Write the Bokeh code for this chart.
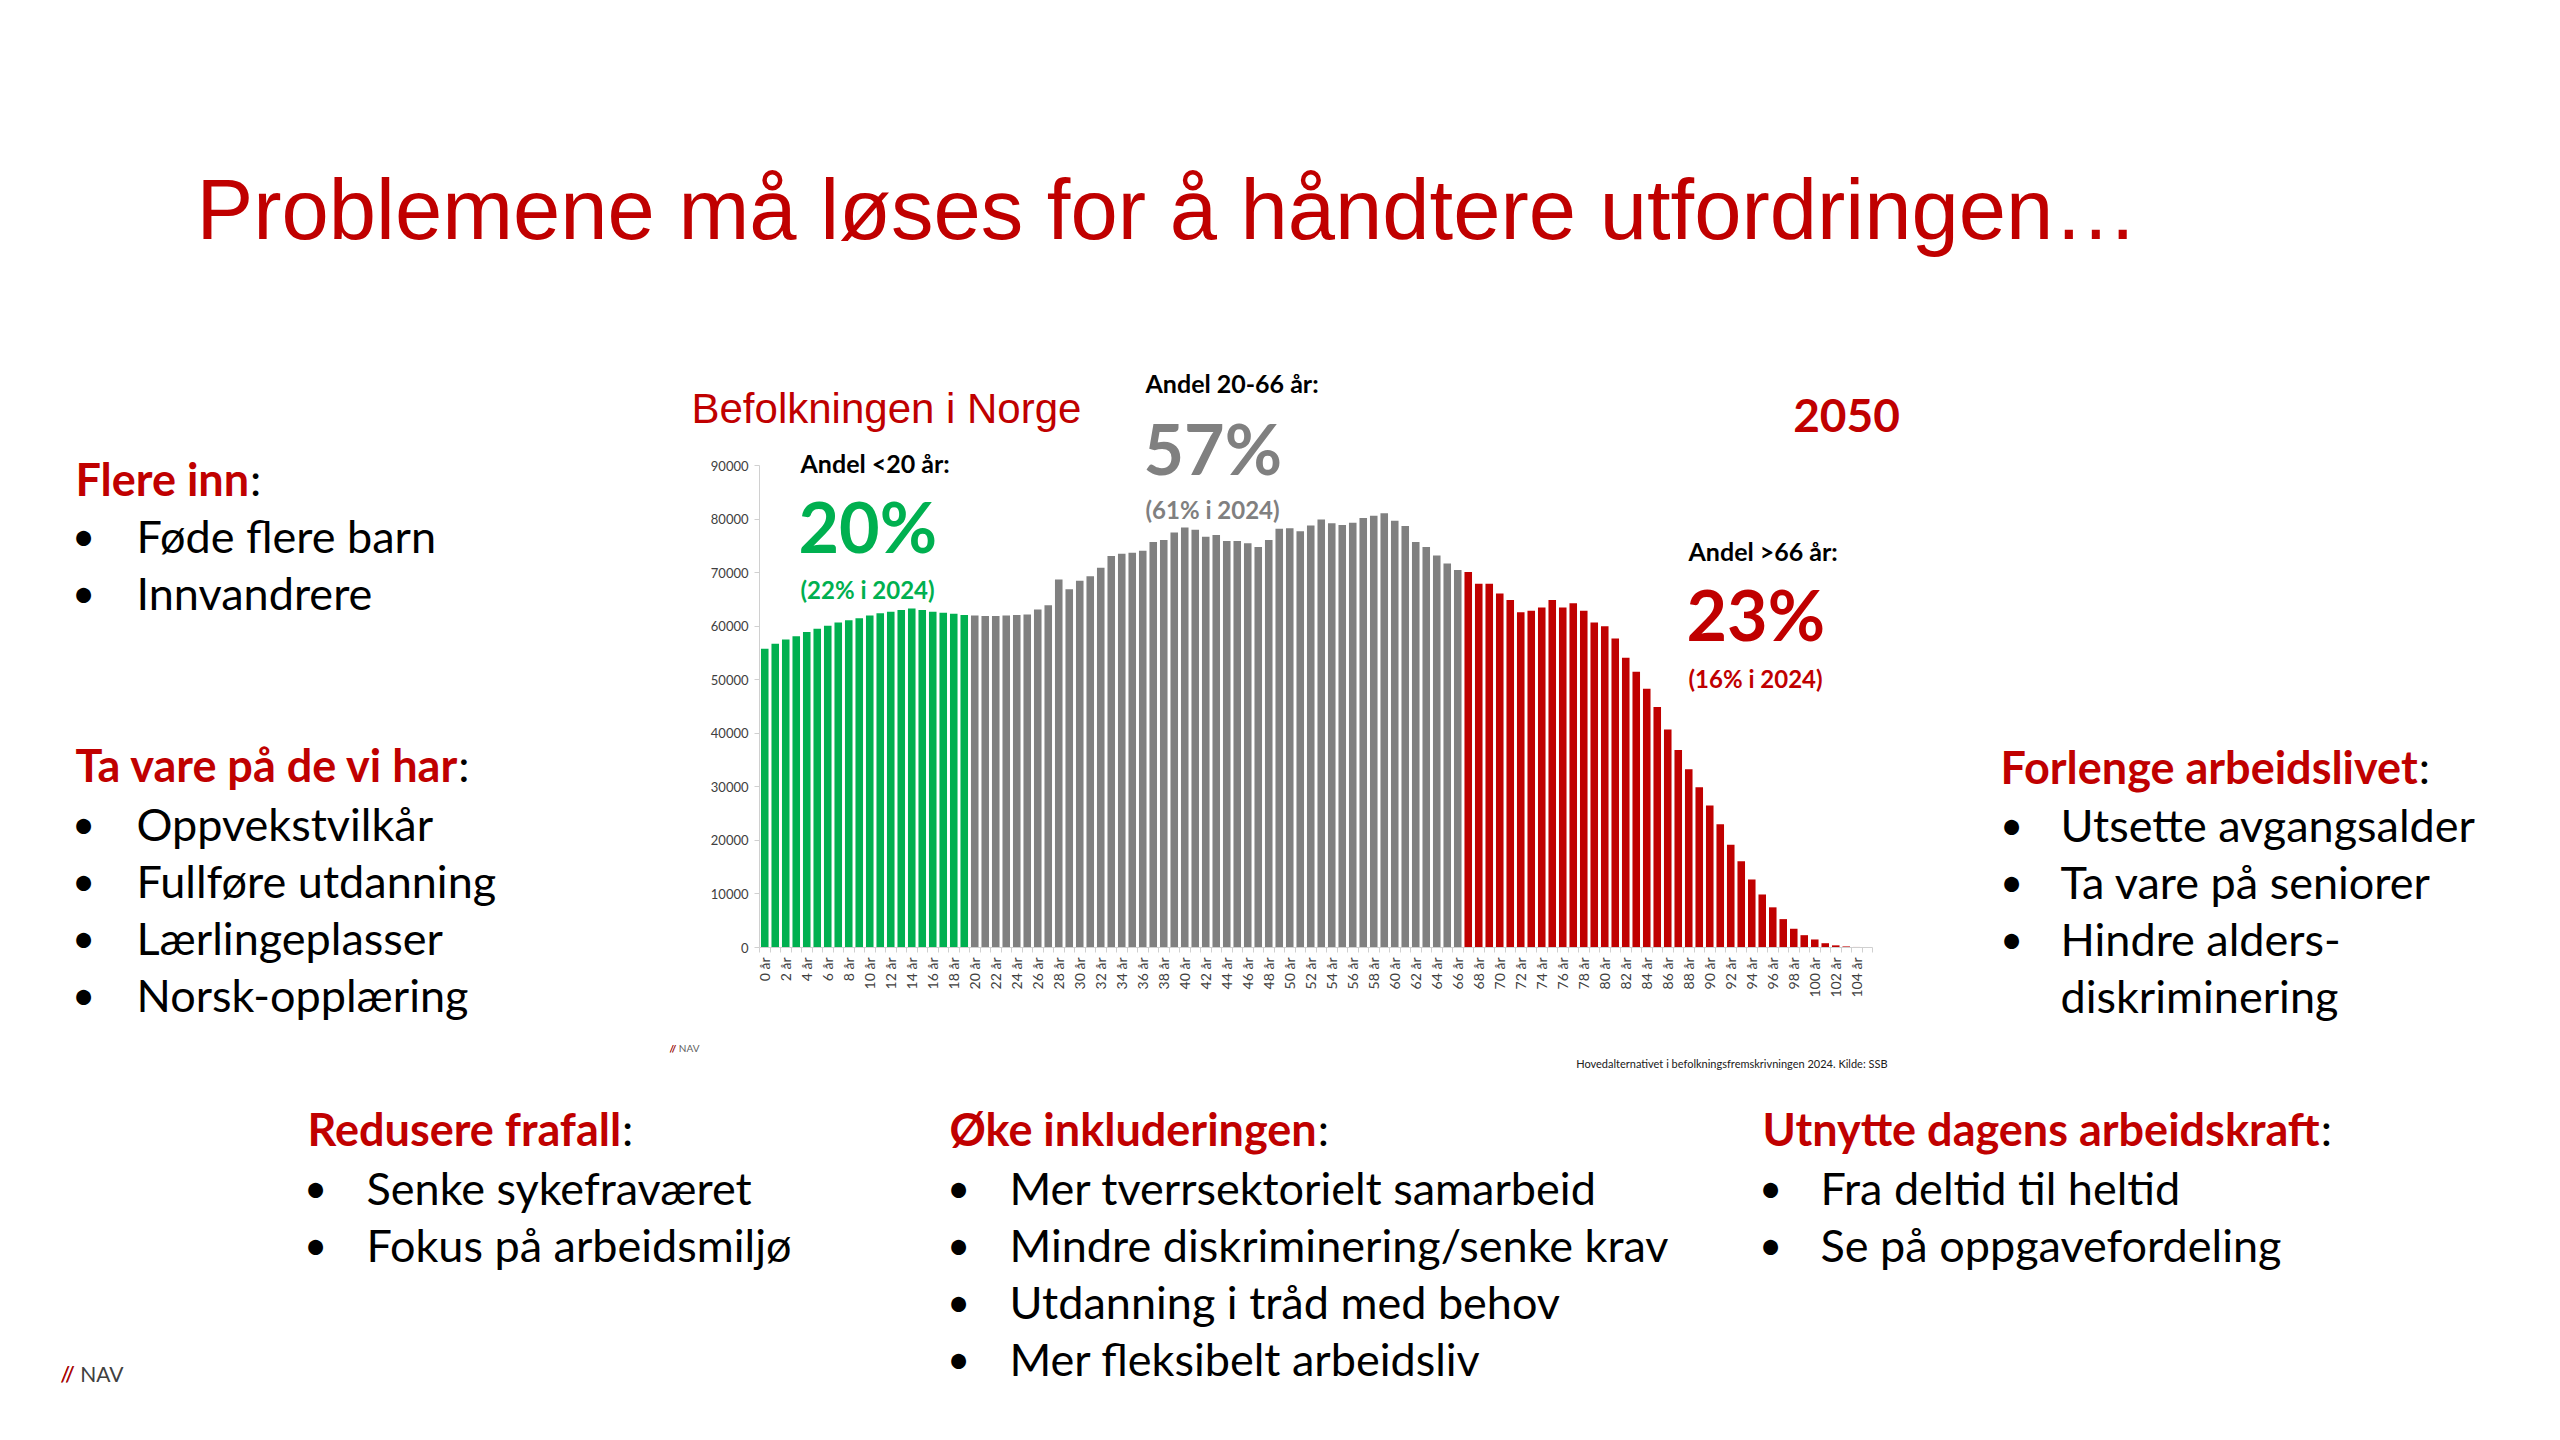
import math
import subprocess
from bokeh.plotting import figure
from bokeh.models import Range1d, FixedTicker, Label, NumeralTickFormatter, ColumnDataSource
from bokeh.embed import file_html
from bokeh.resources import INLINE

# ---------------- data ----------------
ages = list(range(106))
age_labels = {a: f"{a} år" for a in range(0, 106, 2)}
population = [
    55800, 56700, 57500, 58100, 58900, 59500, 60100, 60700, 61100, 61500,
    62000, 62400, 62700, 63000, 63300, 63000, 62700, 62500, 62300, 62100,
    62000, 61900, 61900, 62000, 62100, 62200, 63100, 63900, 68700, 66900,
    68500, 69300, 70900, 73100, 73500, 73700, 74100, 75700, 76100, 77500,
    78400, 78000, 76700, 77000, 75900, 75900, 75500, 74800, 76100, 78200,
    78300, 77700, 78800, 79900, 79200, 78900, 79300, 80200, 80600, 81100,
    79700, 78700, 75700, 74800, 73200, 71700, 70500, 70100, 67900, 67900,
    66100, 64900, 62600, 62900, 63500, 64900, 63500, 64300, 62900, 60700,
    60000, 57700, 54100, 51500, 48300, 44900, 40700, 36900, 33300, 29900,
    26500, 23000, 19200, 16100, 12700, 9900, 7500, 5300, 3500, 2300,
    1500, 800, 400, 200, 100, 50,
]
young_max_age = 19
working_max_age = 66
y_ticks = [0, 10000, 20000, 30000, 40000, 50000, 60000, 70000, 80000, 90000]

title_text = "Problemene må løses for å håndtere utfordringen…"
chart_title = "Befolkningen i Norge"
year_text = "2050"
share_young = ("Andel <20 år:", "20%", "(22% i 2024)")
share_work = ("Andel 20-66 år:", "57%", "(61% i 2024)")
share_old = ("Andel >66 år:", "23%", "(16% i 2024)")
source_text = "Hovedalternativet i befolkningsfremskrivningen 2024. Kilde: SSB"

blocks = [
    ("Flere inn", ["Føde flere barn", "Innvandrere"]),
    ("Ta vare på de vi har", ["Oppvekstvilkår", "Fullføre utdanning", "Lærlingeplasser", "Norsk-opplæring"]),
    ("Forlenge arbeidslivet", ["Utsette avgangsalder", "Ta vare på seniorer", "Hindre alders-", "\tdiskriminering"]),
    ("Redusere frafall", ["Senke sykefraværet", "Fokus på arbeidsmiljø"]),
    ("Øke inkluderingen", ["Mer tverrsektorielt samarbeid", "Mindre diskriminering/senke krav",
                           "Utdanning i tråd med behov", "Mer fleksibelt arbeidsliv"]),
    ("Utnytte dagens arbeidskraft", ["Fra deltid til heltid", "Se på oppgavefordeling"]),
]

# ---------------- style / layout ----------------
GREEN = "#00B050"
GREY = "#808080"
RED = "#C00000"
FONT = "Lato"
BODY = 45

colors = [GREEN if a <= young_max_age else (GREY if a <= working_max_age else RED) for a in ages]
src = ColumnDataSource(dict(age=ages, pop=population, color=colors))

W, H = 2544, 1424                 # canvas = frame
FX0, FX1 = 759, 1872              # pixel x of the chart's category span
FY0, FY1 = 465, 947               # pixel y of top tick / zero line

xa0, xa1 = ages[0] - 0.5, ages[-1] + 0.5
kx = (xa1 - xa0) / (FX1 - FX0)
ya0, ya1 = y_ticks[0], y_ticks[-1]
ky = (ya1 - ya0) / (FY1 - FY0)

p = figure(width=W, height=H, output_backend="svg", toolbar_location=None, title=None,
           x_range=Range1d(xa0 - FX0 * kx, xa1 + (W - FX1) * kx),
           y_range=Range1d(ya0 - (H - FY1) * ky, ya1 + FY0 * ky),
           min_border_left=0, min_border_right=0, min_border_top=0, min_border_bottom=0)
p.outline_line_color = None
p.grid.visible = False
p.background_fill_color = "white"
p.border_fill_color = "white"

p.vbar(x="age", top="pop", width=0.72, color="color", source=src, line_color=None)

xa = p.xaxis[0]
xa.fixed_location = 0
xa.bounds = (xa0, xa1)
xa.ticker = FixedTicker(ticks=list(age_labels.keys()), minor_ticks=[a - 0.5 for a in range(len(ages) + 1)])
xa.major_label_overrides = age_labels
xa.major_label_orientation = math.pi / 2
xa.major_tick_out = 0
xa.major_tick_in = 0
xa.minor_tick_out = 5
xa.minor_tick_in = 0
xa.minor_tick_line_color = "#d0d0d0"
xa.axis_line_color = "#d0d0d0"
xa.major_label_text_font = FONT
xa.major_label_text_font_size = "14px"
xa.major_label_text_color = "#404040"
xa.major_label_standoff = 5

ya = p.yaxis[0]
ya.fixed_location = xa0
ya.bounds = (ya0, ya1)
ya.ticker = FixedTicker(ticks=y_ticks)
ya.formatter = NumeralTickFormatter(format="0")
ya.major_tick_out = 5
ya.major_tick_in = 0
ya.minor_tick_line_color = None
ya.major_tick_line_color = "#d0d0d0"
ya.axis_line_color = "#d0d0d0"
ya.major_label_text_font = FONT
ya.major_label_text_font_size = "13px"
ya.major_label_text_color = "#404040"
ya.major_label_standoff = 6


def text_width(text, size, bold):
    """Width of a text in Lato, measured with Pillow (a Bokeh dependency); None if unavailable."""
    try:
        from PIL import ImageFont
        path = subprocess.run(["fc-match", "-f", "%{file}", "Lato:bold" if bold else "Lato:regular"],
                              capture_output=True, text=True, timeout=10).stdout.strip()
        if "lato" not in path.lower():
            return None
        return ImageFont.truetype(path, size).getlength(text)
    except Exception:
        return None


def lab(px, py, text, size, color, bold=False, align="left", font=FONT):
    """Text label positioned in canvas pixels (py measured from the top), vertically centred."""
    p.add_layout(Label(x=px, y=H - py, x_units="screen", y_units="screen", text=text,
                       text_font=font, text_font_size=f"{size}px", text_color=color,
                       text_font_style="bold" if bold else "normal",
                       text_align=align, text_baseline="middle"))


# slide title
lab(196, 209, title_text, 85, RED, font="Liberation Sans")
# chart title
lab(691, 408, chart_title, 42, RED, font="Liberation Sans")
lab(1846, 415, year_text, 46, RED, bold=True, align="center")

for (hdr, big, small), x0, yh, yb, ys, col in [
    (share_young, 800, 462, 525, 589, GREEN),
    (share_work, 1145, 382, 447, 509, GREY),
    (share_old, 1688, 550, 613, 678, RED),
]:
    lab(x0, yh, hdr, 25, "#000000", bold=True)
    lab(x0 - 2, yb, big, 70, col, bold=True)
    lab(x0, ys, small, 24, col, bold=True)

# small NAV mark and source inside the chart picture
lab(669, 1047, "// NAV", 10, "#606060")
lab(669, 1047, "//", 10, RED)
lab(1887, 1063, source_text, 11, "#202020", align="right")

# bottom-left NAV logo text
lab(60, 1373, "// NAV", 21, "#404040")
lab(60, 1373, "//", 21, RED)

# bullet blocks: heading x, heading y, bullet x, text x, first item y, line gap
block_pos = [
    (75, 478, 83, 136, 535, 57),
    (75, 764, 83, 136, 823, 57),
    (2000, 766, 2011, 2060, 824, 57),
    (307, 1128, 315, 366, 1187, 57),
    (949, 1128, 958, 1009, 1187, 57),
    (1762, 1128, 1770, 1820, 1187, 57),
]
for (hdr, items), (hx, hy, bx, tx, iy, gap) in zip(blocks, block_pos):
    w = text_width(hdr, BODY, True)
    if w is not None:
        lab(hx, hy, hdr, BODY, RED, bold=True)
        lab(hx + w + 1, hy, ":", BODY, "#000000")
    else:
        lab(hx, hy, hdr + ":", BODY, "#000000", bold=True)
        lab(hx, hy, hdr, BODY, RED, bold=True)
    for i, it in enumerate(items):
        y = iy + i * gap
        if it.startswith("\t"):
            lab(tx, y, it[1:], BODY, "#000000")
        else:
            lab(bx, y, "•", 40, "#000000", align="center")
            lab(tx, y, it, BODY, "#000000")

open("out.html", "w").write(file_html(p, INLINE))
